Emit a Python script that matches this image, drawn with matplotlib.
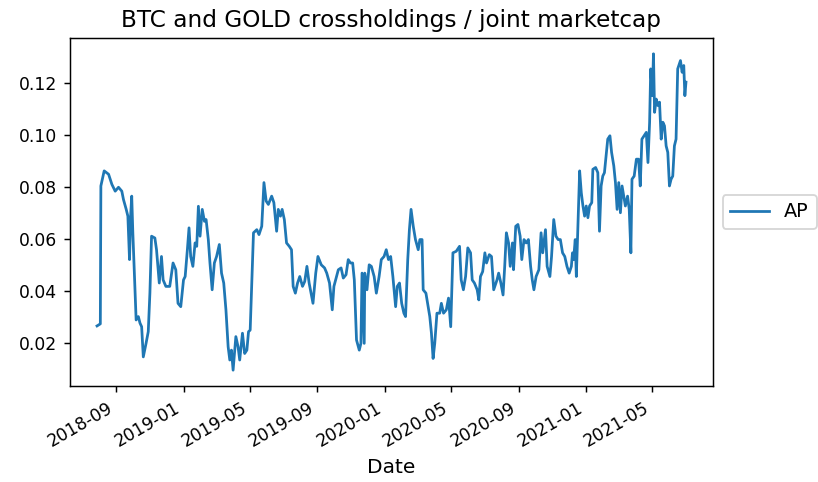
import pandas as pd
import matplotlib.pyplot as plt
import matplotlib.dates as mdates

dates = [
    "2018-07-28", "2018-08-03", "2018-08-04", "2018-08-10", "2018-08-18", "2018-08-24",
    "2018-08-30", "2018-09-05", "2018-09-11", "2018-09-14", "2018-09-19", "2018-09-22",
    "2018-09-25", "2018-09-27", "2018-09-29", "2018-10-01", "2018-10-04", "2018-10-07",
    "2018-10-11", "2018-10-14", "2018-10-17", "2018-10-20", "2018-10-25", "2018-10-29",
    "2018-11-01", "2018-11-04", "2018-11-10", "2018-11-13", "2018-11-18", "2018-11-22",
    "2018-11-25", "2018-11-30", "2018-12-07", "2018-12-13", "2018-12-18", "2018-12-22",
    "2018-12-27", "2019-01-01", "2019-01-04", "2019-01-08", "2019-01-11", "2019-01-14",
    "2019-01-18", "2019-01-22", "2019-01-25", "2019-01-28", "2019-01-31", "2019-02-04",
    "2019-02-08", "2019-02-11", "2019-02-15", "2019-02-18", "2019-02-22", "2019-02-26",
    "2019-03-02", "2019-03-07", "2019-03-11", "2019-03-15", "2019-03-19", "2019-03-23",
    "2019-03-26", "2019-03-29", "2019-04-01", "2019-04-06", "2019-04-10", "2019-04-13",
    "2019-04-18", "2019-04-22", "2019-04-26", "2019-04-29", "2019-05-02", "2019-05-05",
    "2019-05-08", "2019-05-14", "2019-05-18", "2019-05-23", "2019-05-27", "2019-05-31",
    "2019-06-04", "2019-06-10", "2019-06-14", "2019-06-19", "2019-06-22", "2019-06-26",
    "2019-06-29", "2019-07-03", "2019-07-07", "2019-07-12", "2019-07-16", "2019-07-19",
    "2019-07-23", "2019-07-27", "2019-07-31", "2019-08-05", "2019-08-09", "2019-08-13",
    "2019-08-17", "2019-08-24", "2019-08-29", "2019-09-02", "2019-09-08", "2019-09-14",
    "2019-09-18", "2019-09-23", "2019-09-28", "2019-10-01", "2019-10-09", "2019-10-14",
    "2019-10-18", "2019-10-23", "2019-10-27", "2019-10-31", "2019-11-04", "2019-11-07",
    "2019-11-11", "2019-11-16", "2019-11-19", "2019-11-21", "2019-11-25", "2019-11-26",
    "2019-11-30", "2019-12-04", "2019-12-08", "2019-12-13", "2019-12-17", "2019-12-22",
    "2019-12-26", "2019-12-31", "2020-01-04", "2020-01-08", "2020-01-12", "2020-01-16",
    "2020-01-21", "2020-01-24", "2020-01-28", "2020-02-01", "2020-02-05", "2020-02-08",
    "2020-02-12", "2020-02-15", "2020-02-18", "2020-02-22", "2020-02-26", "2020-03-02",
    "2020-03-05", "2020-03-09", "2020-03-11", "2020-03-16", "2020-03-20", "2020-03-23",
    "2020-03-26", "2020-03-29", "2020-04-01", "2020-04-05", "2020-04-10", "2020-04-13",
    "2020-04-17", "2020-04-22", "2020-04-26", "2020-04-30", "2020-05-04", "2020-05-10",
    "2020-05-16", "2020-05-19", "2020-05-23", "2020-05-27", "2020-05-31", "2020-06-05",
    "2020-06-08", "2020-06-12", "2020-06-17", "2020-06-20", "2020-06-23", "2020-06-27",
    "2020-07-01", "2020-07-04", "2020-07-09", "2020-07-13", "2020-07-17", "2020-07-23",
    "2020-07-26", "2020-07-30", "2020-08-03", "2020-08-06", "2020-08-09", "2020-08-13",
    "2020-08-16", "2020-08-20", "2020-08-22", "2020-08-26", "2020-08-30", "2020-09-03",
    "2020-09-06", "2020-09-10", "2020-09-14", "2020-09-18", "2020-09-22", "2020-09-25",
    "2020-09-28", "2020-10-02", "2020-10-07", "2020-10-11", "2020-10-14", "2020-10-19",
    "2020-10-22", "2020-10-27", "2020-10-30", "2020-11-03", "2020-11-07", "2020-11-11",
    "2020-11-15", "2020-11-19", "2020-11-23", "2020-11-27", "2020-12-01", "2020-12-05",
    "2020-12-07", "2020-12-09", "2020-12-12", "2020-12-14", "2020-12-20", "2020-12-23",
    "2020-12-26", "2020-12-29", "2021-01-01", "2021-01-04", "2021-01-07", "2021-01-11",
    "2021-01-13", "2021-01-18", "2021-01-22", "2021-01-25", "2021-01-28", "2021-01-31",
    "2021-02-03", "2021-02-06", "2021-02-09", "2021-02-13", "2021-02-16", "2021-02-20",
    "2021-02-23", "2021-02-26", "2021-03-01", "2021-03-04", "2021-03-07", "2021-03-10",
    "2021-03-13", "2021-03-17", "2021-03-20", "2021-03-23", "2021-03-25", "2021-03-29",
    "2021-04-02", "2021-04-06", "2021-04-09", "2021-04-12", "2021-04-16", "2021-04-20",
    "2021-04-23", "2021-04-26", "2021-04-28", "2021-05-01", "2021-05-03", "2021-05-05",
    "2021-05-08", "2021-05-11", "2021-05-14", "2021-05-17", "2021-05-20", "2021-05-23",
    "2021-05-26", "2021-05-29", "2021-06-01", "2021-06-04", "2021-06-07", "2021-06-10",
    "2021-06-13", "2021-06-16", "2021-06-21", "2021-06-24", "2021-06-27", "2021-06-29",
    "2021-07-01",
]

ap = [
    0.0267, 0.0275, 0.0805, 0.0863, 0.0850, 0.0811,
    0.0785, 0.0800, 0.0785, 0.0753, 0.0715, 0.0689,
    0.0522, 0.0690, 0.0766, 0.0626, 0.0457, 0.0290,
    0.0303, 0.0278, 0.0264, 0.0148, 0.0200, 0.0245,
    0.0394, 0.0612, 0.0605, 0.0560, 0.0432, 0.0534,
    0.0444, 0.0419, 0.0419, 0.0509, 0.0483, 0.0354,
    0.0341, 0.0444, 0.0457, 0.0560, 0.0644, 0.0534,
    0.0496, 0.0586, 0.0573, 0.0727, 0.0612, 0.0715,
    0.0669, 0.0676, 0.0599, 0.0509, 0.0406, 0.0509,
    0.0534, 0.0580, 0.0470, 0.0432, 0.0329, 0.0187,
    0.0136, 0.0174, 0.0097, 0.0226, 0.0187, 0.0136,
    0.0239, 0.0161, 0.0174, 0.0245, 0.0251, 0.0433,
    0.0625, 0.0637, 0.0618, 0.0650, 0.0818, 0.0747,
    0.0734, 0.0766, 0.0741, 0.0631, 0.0715, 0.0689,
    0.0715, 0.0676, 0.0586, 0.0573, 0.0560, 0.0419,
    0.0393, 0.0432, 0.0457, 0.0419, 0.0438, 0.0496,
    0.0432, 0.0354, 0.0470, 0.0534, 0.0502, 0.0490,
    0.0470, 0.0432, 0.0329, 0.0419, 0.0483, 0.0490,
    0.0451, 0.0464, 0.0522, 0.0509, 0.0509, 0.0444,
    0.0213, 0.0174, 0.0200, 0.0470, 0.0200, 0.0470,
    0.0406, 0.0502, 0.0496, 0.0457, 0.0393, 0.0457,
    0.0522, 0.0534, 0.0560, 0.0522, 0.0534, 0.0457,
    0.0341, 0.0419, 0.0432, 0.0354, 0.0316, 0.0303,
    0.0522, 0.0637, 0.0715, 0.0650, 0.0599, 0.0560,
    0.0599, 0.0599, 0.0406, 0.0393, 0.0341, 0.0303,
    0.0239, 0.0142, 0.0200, 0.0316, 0.0316, 0.0354,
    0.0316, 0.0329, 0.0374, 0.0264, 0.0548, 0.0554,
    0.0573, 0.0444, 0.0406, 0.0457, 0.0567, 0.0548,
    0.0444, 0.0432, 0.0406, 0.0367, 0.0457, 0.0476,
    0.0548, 0.0509, 0.0541, 0.0534, 0.0406, 0.0444,
    0.0470, 0.0432, 0.0386, 0.0496, 0.0625, 0.0586,
    0.0496, 0.0586, 0.0483, 0.0650, 0.0657, 0.0612,
    0.0522, 0.0599, 0.0586, 0.0599, 0.0496, 0.0444,
    0.0406, 0.0457, 0.0483, 0.0625, 0.0548, 0.0637,
    0.0496, 0.0457, 0.0534, 0.0676, 0.0612, 0.0599,
    0.0599, 0.0548, 0.0534, 0.0496, 0.0470, 0.0496,
    0.0548, 0.0522, 0.0599, 0.0457, 0.0863, 0.0779,
    0.0728, 0.0689, 0.0728, 0.0683, 0.0728, 0.0741,
    0.0869, 0.0876, 0.0856, 0.0631, 0.0805, 0.0843,
    0.0856, 0.0920, 0.0985, 0.0998, 0.0934, 0.0882,
    0.0818, 0.0715, 0.0818, 0.0702, 0.0805, 0.0766,
    0.0728, 0.0766, 0.0715, 0.0548, 0.0831, 0.0843,
    0.0908, 0.0908, 0.0805, 0.0985, 0.0998, 0.1011,
    0.0895, 0.1050, 0.1255, 0.1152, 0.1313, 0.1088,
    0.1139, 0.1114, 0.1127, 0.0985, 0.1050, 0.1036,
    0.0959, 0.0934, 0.0805, 0.0831, 0.0843, 0.0959,
    0.0985, 0.1255, 0.1287, 0.1242, 0.1268, 0.1152,
    0.1204,
]

df = pd.DataFrame({"AP": ap}, index=pd.to_datetime(dates))
df.index.name = "Date"

fig = plt.figure(figsize=(818 / 132, 482 / 132), dpi=132)
ax = fig.add_axes([0.0856, 0.1992, 0.7860, 0.7220])

ax.plot(df.index, df["AP"], color="#1f77b4", linewidth=1.5, label="AP")
ax.set_xlim(pd.Timestamp("2018-06-09"), pd.Timestamp("2021-08-19"))

ax.xaxis.set_major_locator(mdates.MonthLocator(bymonth=[1, 5, 9]))
ax.xaxis.set_major_formatter(mdates.DateFormatter("%Y-%m"))
ax.tick_params(labelsize=9.4)
for lbl in ax.get_xticklabels():
    lbl.set_rotation(30)
    lbl.set_ha("right")

ax.set_xlabel("Date", fontsize=11)
ax.set_title("BTC and GOLD crossholdings / joint marketcap", fontsize=12.6)
ax.legend(loc="center left", bbox_to_anchor=(1, 0.5), fontsize=10.5)

fig.savefig("out.png", dpi=132)
